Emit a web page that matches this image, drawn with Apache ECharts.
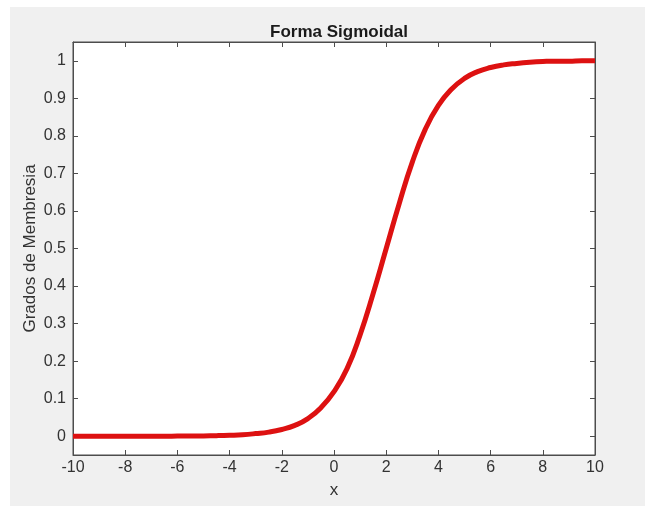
<!DOCTYPE html>
<html>
<head>
<meta charset="utf-8">
<script src="https://cdn.jsdelivr.net/npm/echarts@6/dist/echarts.min.js"></script>
<style>
html,body{margin:0;padding:0;background:#ffffff;}
#c{width:645px;height:506px;}
</style>
</head>
<body>
<div id="c"></div>
<script>
const titleText = 'Forma Sigmoidal';
const xName = 'x';
const yName = 'Grados de Membresia';
const xValues = [-10,-9.5,-9,-8.5,-8,-7.5,-7,-6.5,-6,-5.5,-5,-4.5,-4,-3.5,-3,-2.5,-2,-1.5,-1,-0.5,0,0.5,1,1.5,2,2.5,3,3.5,4,4.5,5,5.5,6,6.5,7,7.5,8,8.5,9,9.5,10];
const yValues = [0,0,0,0,0,0,0,0,0.0003,0.0005,0.0009,0.0015,0.0025,0.004,0.007,0.011,0.018,0.029,0.047,0.076,0.119,0.18,0.27,0.38,0.5,0.62,0.73,0.818,0.881,0.924,0.953,0.971,0.982,0.989,0.993,0.996,0.998,0.999,0.999,1,1];
const yTicks = [0,0.1,0.2,0.3,0.4,0.5,0.6,0.7,0.8,0.9,1];

const chart = echarts.init(document.getElementById('c'), null, {renderer:'canvas'});
const font = 'Liberation Sans, Arial, Helvetica, sans-serif';
const axisCol = '#4d4d4d';
const txtCol = '#333333';
const data = xValues.map((x,i)=>[x,yValues[i]]);
chart.setOption({
  animation:false,
  backgroundColor:'transparent',
  graphic:[{type:'rect',shape:{x:10,y:7,width:635,height:499},style:{fill:'#f0f0f0'},z:-10,silent:true}],
  title:{text:titleText,left:334,top:19,textAlign:'center',textStyle:{fontFamily:font,fontSize:17,fontWeight:'bold',color:'#1a1a1a'}},
  grid:{left:73,right:50,top:42,bottom:51,show:true,backgroundColor:'#ffffff',borderColor:axisCol,borderWidth:1},
  xAxis:[{
    type:'value',min:-10,max:10,interval:2,position:'bottom',
    name:xName,nameLocation:'middle',nameGap:27,nameMoveOverlap:false,
    nameTextStyle:{fontFamily:font,fontSize:17,color:txtCol},
    axisLine:{show:true,onZero:false,lineStyle:{color:axisCol}},
    axisTick:{show:true,inside:true,length:5,lineStyle:{color:axisCol}},
    axisLabel:{fontFamily:font,fontSize:16,color:txtCol,margin:5},
    splitLine:{show:false}
  },{
    type:'value',min:-10,max:10,interval:2,position:'top',
    axisLine:{show:true,onZero:false,lineStyle:{color:axisCol}},
    axisTick:{show:true,inside:true,length:5,lineStyle:{color:axisCol}},
    axisLabel:{show:false},splitLine:{show:false}
  }],
  yAxis:[{
    type:'value',min:-0.05,max:1.05,position:'left',
    name:yName,nameLocation:'middle',nameGap:34,nameRotate:90,nameMoveOverlap:false,
    nameTextStyle:{fontFamily:font,fontSize:17,color:txtCol},
    axisLine:{show:true,onZero:false,lineStyle:{color:axisCol}},
    axisTick:{show:true,inside:true,length:5,customValues:yTicks,lineStyle:{color:axisCol}},
    axisLabel:{fontFamily:font,fontSize:16,color:txtCol,margin:7,customValues:yTicks,formatter:v=>String(Math.round(v*10)/10)},
    splitLine:{show:false}
  },{
    type:'value',min:-0.05,max:1.05,position:'right',
    axisLine:{show:true,onZero:false,lineStyle:{color:axisCol}},
    axisTick:{show:true,inside:true,length:5,customValues:yTicks,lineStyle:{color:axisCol}},
    axisLabel:{show:false},splitLine:{show:false}
  }],
  series:[{
    type:'line',xAxisIndex:0,yAxisIndex:0,data:data,smooth:0.5,showSymbol:false,
    lineStyle:{color:'#dd1111',width:5},
    clip:true
  }]
});
</script>
</body>
</html>
